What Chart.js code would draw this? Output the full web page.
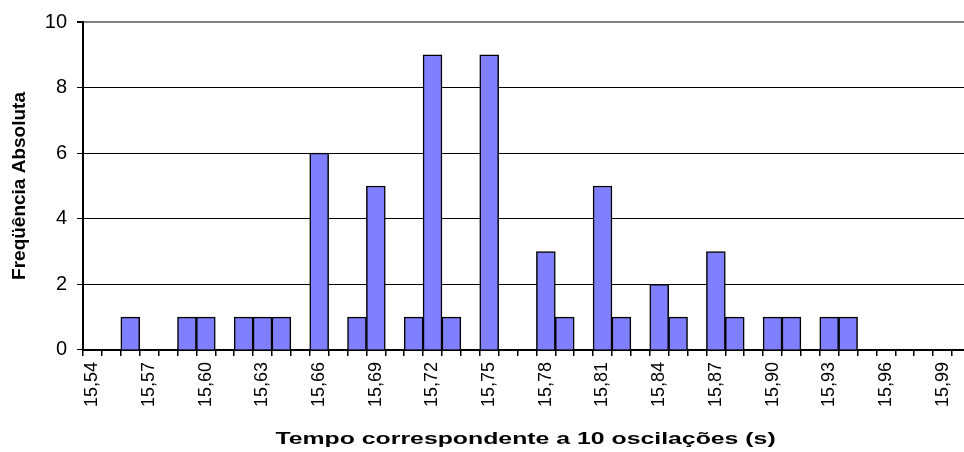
<!DOCTYPE html>
<html>
<head>
<meta charset="utf-8">
<script src="https://cdn.jsdelivr.net/npm/chart.js@4.4.1/dist/chart.umd.min.js"></script>
<style>
    body { margin: 0; background: #fff; }
</style>
</head>
<body>
<canvas id="chartTempos" width="964" height="452"></canvas>
<script>
// categorias (tempo de 10 oscilações, s)
const tempos = ['15,54', '15,55', '15,56', '15,57', '15,58', '15,59', '15,60', '15,61', '15,62', '15,63',
    '15,64', '15,65', '15,66', '15,67', '15,68', '15,69', '15,70', '15,71', '15,72', '15,73',
    '15,74', '15,75', '15,76', '15,77', '15,78', '15,79', '15,80', '15,81', '15,82', '15,83',
    '15,84', '15,85', '15,86', '15,87', '15,88', '15,89', '15,90', '15,91', '15,92', '15,93',
    '15,94', '15,95', '15,96', '15,97', '15,98', '15,99'];
// frequência absoluta de cada tempo
const frequencias = [0, 0, 1, 0, 0, 1, 1, 0, 1, 1,
    1, 0, 6, 0, 1, 5, 0, 1, 9, 1,
    0, 9, 0, 0, 3, 1, 0, 5, 1, 0,
    2, 1, 0, 3, 1, 0, 1, 1, 0, 1,
    1, 0, 0, 0, 0, 0];
const ticksY = [0, 2, 4, 6, 8, 10];
const tituloX = 'Tempo correspondente a 10 oscilações (s)';
const tituloY = 'Freqüência Absoluta';

const fonte = '"Liberation Sans", Arial, sans-serif';

function alinhar(px, largura) {
    return Math.round(px - largura / 2) + largura / 2;
}

// prolonga as linhas horizontais até a borda e escreve o título do eixo x
const extrasGrafico = {
    id: 'extrasGrafico',
    afterDraw: function (chart) {
        const ctx = chart.ctx;
        const area = chart.chartArea;
        const escalaY = chart.scales.y;
        ctx.save();
        escalaY.ticks.forEach(function (t) {
            let topo = t.value === ticksY[ticksY.length - 1];
            ctx.strokeStyle = topo ? '#808080' : '#000';
            ctx.lineWidth = (topo || t.value === 0) ? 2 : 1;
            let py = alinhar(escalaY.getPixelForValue(t.value), ctx.lineWidth);
            ctx.beginPath();
            ctx.moveTo(area.right - 1, py);
            ctx.lineTo(chart.width, py);
            ctx.stroke();
        });
        ctx.fillStyle = '#000';
        ctx.font = 'bold 17px ' + fonte;
        ctx.textAlign = 'center';
        ctx.textBaseline = 'alphabetic';
        ctx.translate((area.left + area.right) / 2 + 8, chart.height - 8);
        ctx.scale(1.46, 1);
        ctx.fillText(tituloX, 0, 0);
        ctx.restore();
    }
};

var ctx = document.getElementById('chartTempos').getContext('2d');
var myChart = new Chart(ctx, {
    type: 'bar',
    data: {
        labels: tempos,
        datasets: [{
            label: 'Frequência',
            data: frequencias,
            backgroundColor: '#8080FF',
            borderColor: '#000000',
            borderWidth: 1.5,
            barPercentage: 1,
            categoryPercentage: 1
        }]
    },
    options: {
        responsive: false,
        devicePixelRatio: 1,
        animation: false,
        layout: {
            padding: { top: 22, right: 12, bottom: 39, left: 0 }
        },
        plugins: {
            legend: { display: false },
            tooltip: { enabled: false }
        },
        scales: {
            x: {
                offset: true,
                afterFit: function (escala) {
                    escala.paddingRight = 0;
                },
                grid: {
                    offset: true,
                    drawOnChartArea: false,
                    color: '#000',
                    tickLength: 6,
                    lineWidth: 1.5
                },
                border: { color: '#000', width: 2 },
                ticks: {
                    autoSkip: false,
                    minRotation: 90,
                    maxRotation: 90,
                    padding: 6,
                    color: '#000',
                    font: { family: fonte, size: 18 },
                    callback: function (valor, indice) {
                        return indice % 3 === 0 ? this.getLabelForValue(valor) : '';
                    }
                }
            },
            y: {
                min: 0,
                max: 10,
                afterBuildTicks: function (escala) {
                    escala.ticks = ticksY.map(function (v) { return { value: v }; });
                },
                grid: {
                    color: function (c) { return c.tick && c.tick.value === 10 ? '#808080' : '#000'; },
                    lineWidth: function (c) { return c.tick && c.tick.value === 10 ? 2 : 1; },
                    tickColor: '#000',
                    tickLength: 6
                },
                border: { color: '#000', width: 2 },
                ticks: {
                    padding: 10,
                    color: '#000',
                    font: { family: fonte, size: 20 }
                },
                title: {
                    display: true,
                    text: tituloY,
                    color: '#000',
                    font: { family: fonte, size: 19, weight: 'bold' },
                    padding: { top: 8, bottom: 4 }
                }
            }
        }
    },
    plugins: [extrasGrafico]
});
</script>
</body>
</html>
